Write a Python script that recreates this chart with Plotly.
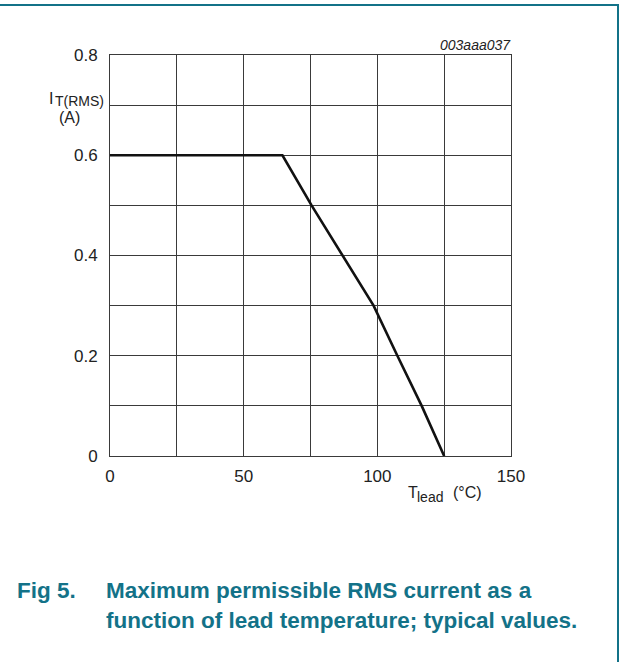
import plotly.graph_objects as go

# Data
t_lead = [0, 64.5, 75.4, 87.0, 98.6, 107.5, 116.6, 125]
i_rms = [0.6, 0.6, 0.5, 0.4, 0.3, 0.2, 0.1, 0.0]

x_ticks = [0, 50, 100, 150]
y_ticks = [0, 0.2, 0.4, 0.6, 0.8]
y_tick_text = ["0", "0.2", "0.4", "0.6", "0.8"]

W, H = 621, 662
L, R, T, B = 110, 110, 55, 206
pw, ph = W - L - R, H - T - B

def px2paper_x(px):
    return (px - L) / pw

def px2paper_y(py):
    return 1 - (py - T) / ph

teal = "#137288"
grid = "#3a3a3a"
txt = "#222222"
font = "Liberation Sans, Arial, sans-serif"

fig = go.Figure()
fig.add_trace(go.Scatter(x=t_lead, y=i_rms, mode="lines",
                         line=dict(color="#111111", width=2.6),
                         showlegend=False, hoverinfo="skip"))

fig.update_layout(
    width=W, height=H,
    margin=dict(l=L, r=R, t=T, b=B),
    paper_bgcolor="white", plot_bgcolor="white",
    font=dict(family=font, size=17, color=txt),
    xaxis=dict(range=[0, 150], tickvals=x_ticks, showgrid=True, gridcolor=grid, gridwidth=1,
               minor=dict(dtick=25, showgrid=True, gridcolor=grid, gridwidth=1),
               showline=True, linecolor=grid, linewidth=1, mirror=True,
               zeroline=False, ticks="", ticklabelstandoff=5,
               tickfont=dict(size=17, family=font, color=txt)),
    yaxis=dict(range=[0, 0.8], tickvals=y_ticks, ticktext=y_tick_text, showgrid=True,
               gridcolor=grid, gridwidth=1,
               minor=dict(dtick=0.1, showgrid=True, gridcolor=grid, gridwidth=1),
               showline=True, linecolor=grid, linewidth=1, mirror=True,
               zeroline=False, ticks="", ticklabelstandoff=8,
               tickfont=dict(size=17, family=font, color=txt)),
)

def a(text, x, y, size, xanchor="left", color=txt):
    return dict(text=text, x=px2paper_x(x), y=px2paper_y(y), xref="paper", yref="paper",
                xanchor=xanchor, yanchor="middle", showarrow=False,
                font=dict(size=size, family=font, color=color))

ann = [
    # y axis title
    a("I", 47, 98, 16),
    a("T(RMS)", 53, 101, 14),
    a("(A)", 69, 117, 16, xanchor="center"),
    # x axis title
    a("T", 406, 492, 16),
    a("lead", 415, 497, 14),
    a("(°C)", 451, 492, 16),
    # code
    a("<i>003aaa037</i>", 513, 45, 14, xanchor="right"),
    # caption
    a("<b>Fig 5.</b>", 15, 590, 22.5, color=teal),
    a("<b>Maximum permissible RMS current as a</b>", 104, 590, 22.5, color=teal),
    a("<b>function of lead temperature; typical values.</b>", 104, 620, 22.5, color=teal),
]
fig.update_layout(annotations=ann)

shapes = [
    dict(type="line", xref="paper", yref="paper", x0=px2paper_x(0), x1=px2paper_x(619),
         y0=px2paper_y(5), y1=px2paper_y(5), line=dict(color=teal, width=2)),
    dict(type="line", xref="paper", yref="paper", x0=px2paper_x(618), x1=px2paper_x(618),
         y0=px2paper_y(4), y1=px2paper_y(662), line=dict(color=teal, width=2)),
]
fig.update_layout(shapes=shapes)

fig.write_html("out.html")
